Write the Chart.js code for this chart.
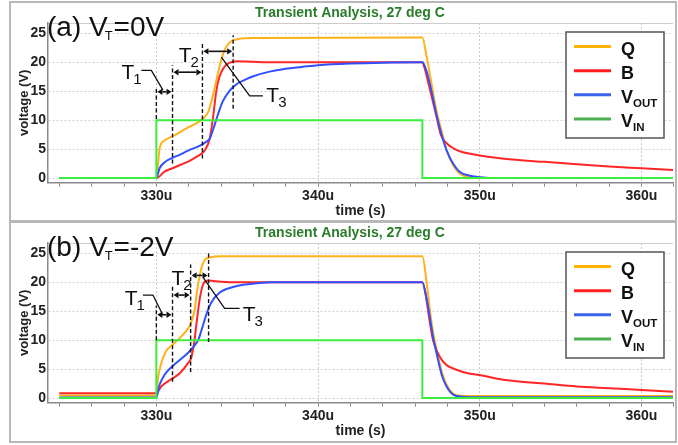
<!DOCTYPE html>
<html lang="en">
<head>
<meta charset="UTF-8">
<title>Transient Analysis, 27 deg C</title>
<script src="https://cdn.jsdelivr.net/npm/chart.js"></script>
<style>
  html, body { margin: 0; padding: 0; background: #fff; }
  #wrap { position: relative; width: 678px; height: 445px; }
  canvas { position: absolute; left: 0; }
  #chartA { top: 0; }
  #chartB { top: 220px; }
</style>
</head>
<body>
<div id="wrap">
  <canvas id="chartA" width="678" height="222"></canvas>
  <canvas id="chartB" width="678" height="225"></canvas>
</div>
<script>
// ---- data (time in us, voltage in V) ----
const seriesNames = ['Q', 'B', 'V_OUT', 'V_IN'];
const xMinorTicks = [324, 326, 328, 330, 332, 334, 336, 338, 340, 342, 344, 346, 348, 350, 352, 354, 356, 358, 360, 362];
const xMajorTicks = [330, 340, 350, 360];
const xTickLabels = ['330u', '340u', '350u', '360u'];
const yTicks = [0, 5, 10, 15, 20, 25];

// input step (same in both panels)
const tIn = [324, 330, 330, 346.45, 346.45, 362];
const vIn = [0, 0, 10, 10, 0, 0];

// (a) VT = 0V
const tQa = [324, 330, 330.2, 330.5, 331, 331.5, 332, 332.5, 332.9, 333.2, 333.4, 333.6, 333.8, 334.0, 334.2, 334.45, 334.75, 335.2, 336, 346.45, 346.7, 347.0, 347.3, 347.65, 347.95, 348.35, 348.75, 349.4, 350, 362];
const vQa = [0, 0, 5.1, 6.5, 7.2, 8.0, 8.8, 9.5, 10.3, 11.4, 13.2, 15.5, 18.0, 20.3, 22.0, 23.2, 23.8, 24.1, 24.2, 24.3, 21.2, 16.6, 12.0, 8.0, 4.8, 2.2, 0.8, 0.1, 0, 0];
const tBa = [324, 330, 330.5, 331, 331.5, 332, 332.5, 333, 333.3, 333.5, 333.7, 333.9, 334.2, 334.5, 335, 336, 337, 346.45, 346.6, 346.9, 347.3, 347.6, 348.0, 348.4, 348.8, 349.5, 350, 351, 352, 354, 356, 358, 360, 362];
const vBa = [0, 0, 1.1, 1.7, 2.3, 2.9, 3.7, 4.8, 6.8, 10.3, 14.9, 17.5, 19.2, 19.9, 20.2, 20.1, 20.0, 20.0, 18.9, 15.5, 10.9, 7.4, 5.9, 5.1, 4.6, 4.15, 3.9, 3.5, 3.2, 2.8, 2.4, 2.0, 1.7, 1.4];
const tVa = [324, 330, 330.2, 330.5, 331, 331.5, 332, 332.7, 333.1, 333.3, 333.5, 333.8, 334.1, 334.5, 335, 335.5, 336, 337, 338, 339, 340, 342, 344, 346.45, 346.7, 347.0, 347.3, 347.65, 347.95, 348.35, 348.75, 349.4, 350.2, 351, 362];
const vVa = [0, 0, 1.7, 2.7, 3.5, 4.1, 4.8, 5.6, 6.3, 6.8, 8.3, 10.9, 13.2, 15.0, 16.3, 17.0, 17.6, 18.4, 18.9, 19.2, 19.5, 19.8, 19.95, 20.0, 18.6, 15.2, 11.2, 7.4, 4.8, 2.5, 1.1, 0.4, 0.1, 0, 0];

// (b) VT = -2V
const tQb = [324, 330, 330.1, 330.3, 330.6, 331, 331.45, 331.85, 332.1, 332.35, 332.55, 332.8, 333.0, 333.3, 334, 346.45, 346.7, 346.9, 347.1, 347.35, 347.65, 347.95, 348.35, 348.9, 350, 362];
const vQb = [0.45, 0.45, 3.4, 6.0, 8.1, 9.2, 10.4, 11.6, 12.7, 15.0, 19.1, 22.6, 23.9, 24.3, 24.5, 24.5, 20.3, 15.6, 11.6, 8.1, 4.6, 2.3, 0.8, 0.4, 0.35, 0.35];
const tBb = [324, 330, 330.3, 331, 331.45, 331.95, 332.15, 332.35, 332.5, 332.7, 332.9, 333.2, 334, 335, 346.45, 346.65, 346.9, 347.1, 347.35, 347.65, 347.95, 348.55, 349.4, 350, 351, 352, 354, 356, 358, 360, 362];
const vBb = [0.85, 0.85, 2.0, 3.4, 4.3, 6.0, 6.9, 9.8, 13.3, 17.4, 19.7, 20.3, 20.1, 20.0, 20.0, 17.9, 13.3, 10.1, 8.1, 6.6, 5.7, 4.9, 4.2, 4.0, 3.4, 3.0, 2.5, 2.0, 1.7, 1.4, 1.1];
const tVb = [324, 330, 330.2, 330.5, 331, 331.45, 331.95, 332.25, 332.6, 332.8, 333.1, 333.4, 333.9, 334.75, 335.8, 337.2, 346.45, 346.7, 346.9, 347.1, 347.35, 347.65, 347.95, 348.35, 348.9, 350, 362];
const vVb = [0.1, 0.1, 2.3, 4.0, 5.5, 6.6, 7.8, 8.7, 10.1, 11.8, 14.5, 16.5, 18.2, 19.2, 19.7, 20.0, 20.0, 17.4, 14.2, 10.7, 7.5, 4.0, 2.0, 0.6, 0.25, 0.15, 0.15];

// ---- styles ----
const colors = ['#ffb11a', '#ff2626', '#3150ff', '#3ded3d'];
const legendColors = ['#ffb300', '#ff1f1f', '#3b63ee', '#4caf50'];
const FONT = "'Liberation Sans', Arial, sans-serif";
Chart.defaults.font.family = FONT;

// timing markers, in data units (t, V)
const annA = {
  label: ['(a)', '=0V'],
  dashes: [[330, 10.2, 15.8], [331, 2.5, 19.5], [332.85, 3.4, 23.2], [334.75, 12.0, 24.7]],
  arrows: [[330, 331, 14.9], [331, 332.85, 18.3], [332.85, 334.75, 21.9]],
  tags: [['1', 327.84, 17.2], ['2', 331.38, 20.0], ['3', 336.8, 13.2]],
  leaders: [[[329.07, 18.6], [329.69, 18.6], [330.41, 15.2]], [[336.59, 14.2], [335.77, 14.2], [334.02, 20.9]]],
  frameH: 219
};
const annB = {
  label: ['(b)', '=-2V'],
  dashes: [[330, 10.0, 16.0], [331, 2.8, 19.4], [332.12, 4.5, 23.1], [333.23, 9.7, 25.2]],
  arrows: [[330, 331, 14.4], [331, 332.12, 17.8], [332.12, 333.23, 21.2]],
  tags: [['1', 328.04, 16.0], ['2', 330.93, 19.5], ['3', 335.34, 13.4]],
  leaders: [[[329.17, 17.8], [329.79, 17.8], [330.41, 14.3]], [[335.15, 15.5], [334.22, 15.5], [332.88, 20.9]]],
  frameH: 220
};

function pts(t, v) {
  return t.map((x, i) => ({ x: x, y: v[i] }));
}

function subText(ctx, x, y, main, sub, mainFont, subFont, dx, dy) {
  ctx.font = mainFont;
  ctx.fillText(main, x, y);
  let w = ctx.measureText(main).width;
  if (!sub) return x + w;
  ctx.font = subFont;
  ctx.fillText(sub, x + w + dx, y + dy);
  return x + w + dx + ctx.measureText(sub).width;
}

function makeDecor(ann) {
  return {
    id: 'decor',
    beforeDraw(chart) {
      const ctx = chart.ctx, a = chart.chartArea;
      ctx.save();
      ctx.strokeStyle = '#b8b8b8';
      ctx.lineWidth = 2;
      ctx.strokeRect(10, 2, 666, ann.frameH);
      ctx.strokeStyle = '#cccccc';
      ctx.lineWidth = 1;
      ctx.beginPath();
      ctx.moveTo(a.left, a.top + 0.5);
      ctx.lineTo(a.right, a.top + 0.5);
      ctx.stroke();
      ctx.restore();
    },
    afterDatasetsDraw(chart) {
      const ctx = chart.ctx;
      const px = t => chart.scales.x.getPixelForValue(t);
      const py = v => chart.scales.y.getPixelForValue(v);
      ctx.save();
      ctx.strokeStyle = '#111';
      ctx.fillStyle = '#111';

      // dashed markers
      ctx.lineWidth = 1.4;
      ctx.setLineDash([4, 2.5]);
      ann.dashes.forEach(d => {
        ctx.beginPath();
        ctx.moveTo(px(d[0]), py(d[1]));
        ctx.lineTo(px(d[0]), py(d[2]));
        ctx.stroke();
      });
      ctx.setLineDash([]);

      // double arrows
      ctx.lineWidth = 1.6;
      ann.arrows.forEach(r => {
        const x1 = px(r[0]) + 1, x2 = px(r[1]) - 1, y = py(r[2]), h = 5, w = 3.2;
        ctx.beginPath();
        ctx.moveTo(x1 + h, y); ctx.lineTo(x2 - h, y);
        ctx.stroke();
        ctx.beginPath();
        ctx.moveTo(x1, y); ctx.lineTo(x1 + h, y - w); ctx.lineTo(x1 + h, y + w); ctx.closePath();
        ctx.moveTo(x2, y); ctx.lineTo(x2 - h, y - w); ctx.lineTo(x2 - h, y + w); ctx.closePath();
        ctx.fill();
      });

      // leader lines
      ctx.lineWidth = 1.3;
      ann.leaders.forEach(l => {
        ctx.beginPath();
        l.forEach((p, i) => i ? ctx.lineTo(px(p[0]), py(p[1])) : ctx.moveTo(px(p[0]), py(p[1])));
        ctx.stroke();
      });

      // T1..T3
      ctx.textBaseline = 'alphabetic';
      ctx.textAlign = 'left';
      ann.tags.forEach(g => {
        subText(ctx, px(g[1]), py(g[2]), 'T', g[0], '21px ' + FONT, '15px ' + FONT, -1, 5);
      });

      // title
      ctx.fillStyle = '#2a7c2a';
      ctx.font = 'bold 14px ' + FONT;
      ctx.textAlign = 'center';
      ctx.textBaseline = 'middle';
      ctx.fillText('Transient Analysis, 27 deg C', 350, 13);

      // panel label
      ctx.fillStyle = '#111';
      ctx.textAlign = 'left';
      ctx.textBaseline = 'alphabetic';
      ctx.font = '28px ' + FONT;
      ctx.fillText(ann.label[0], 47, 36);
      let x = subText(ctx, 89, 36, 'V', 'T', '28px ' + FONT, '13px ' + FONT, -3, 4);
      ctx.font = '28px ' + FONT;
      ctx.fillText(ann.label[1], x + 1, 36);

      // legend
      ctx.fillStyle = '#fff';
      ctx.fillRect(566, 32, 98, 106);
      ctx.strokeStyle = '#555';
      ctx.lineWidth = 1.5;
      ctx.strokeRect(566, 32, 98, 106);
      const rows = [46.5, 70.7, 94.8, 119];
      seriesNames.forEach((name, i) => {
        const parts = name.split('_');
        ctx.strokeStyle = legendColors[i];
        ctx.lineWidth = 3;
        ctx.beginPath();
        ctx.moveTo(574, rows[i]); ctx.lineTo(611, rows[i]);
        ctx.stroke();
        ctx.fillStyle = '#111';
        subText(ctx, 621, rows[i] + 8, parts[0], parts[1], 'bold 18px ' + FONT, 'bold 11.5px ' + FONT, 0, 4);
      });
      ctx.restore();
    }
  };
}

function makeChart(id, ann, series, padBottom) {
  const datasets = series.map((s, i) => ({
    label: seriesNames[i],
    data: pts(s[0], s[1]),
    borderColor: colors[i],
    borderWidth: 2,
    pointRadius: 0,
    fill: false,
    order: 4 - i,
    cubicInterpolationMode: i === 3 ? 'default' : 'monotone',
    tension: i === 3 ? 0 : 0.4
  }));
  return new Chart(document.getElementById(id), {
    type: 'line',
    data: { datasets: datasets },
    options: {
      responsive: false,
      animation: false,
      events: [],
      layout: { padding: { left: 10, right: 5, top: 23, bottom: padBottom } },
      plugins: { legend: { display: false }, tooltip: { enabled: false } },
      scales: {
        x: {
          type: 'linear',
          min: 323.3,
          max: 361.95,
          afterBuildTicks: s => { s.ticks = xMinorTicks.map(v => ({ value: v })); },
          afterFit: s => { s.height = 39.3; },
          ticks: {
            autoSkip: false,
            maxRotation: 0,
            padding: 1,
            color: '#222',
            font: { size: 14, weight: 'bold' },
            callback: v => {
              const k = xMajorTicks.indexOf(v);
              return k >= 0 ? xTickLabels[k] : '';
            }
          },
          grid: {
            color: c => (c.tick && xMajorTicks.includes(c.tick.value)) ? '#c8c8c8' : 'rgba(0,0,0,0)',
            tickColor: '#888',
            tickLength: 4,
            lineWidth: 1
          },
          border: { color: '#8a8a8a', width: 1.5, dash: [2, 2] },
          title: {
            display: true,
            text: 'time (s)',
            color: '#222',
            font: { size: 14, weight: 'bold' },
            padding: { top: 0, bottom: 2 }
          }
        },
        y: {
          min: -0.8,
          max: 26.8,
          afterBuildTicks: s => { s.ticks = yTicks.map(v => ({ value: v })); },
          afterFit: s => { s.width = 38; },
          ticks: { padding: 2, color: '#222', font: { size: 14, weight: 'bold' } },
          grid: { color: '#d2d2d2', drawTicks: false },
          border: { color: '#8a8a8a', width: 1.5, dash: [2, 2] },
          title: {
            display: true,
            text: 'voltage (V)',
            color: '#222',
            font: { size: 13, weight: 'bold' },
            padding: { top: 7, bottom: 0 }
          }
        }
      }
    },
    plugins: [makeDecor(ann)]
  });
}

makeChart('chartA', annA, [[tQa, vQa], [tBa, vBa], [tVa, vVa], [tIn, vIn]], 0);
makeChart('chartB', annB, [[tQb, vQb], [tBb, vBb], [tVb, vVb], [tIn, vIn]], 3);
</script>
</body>
</html>
